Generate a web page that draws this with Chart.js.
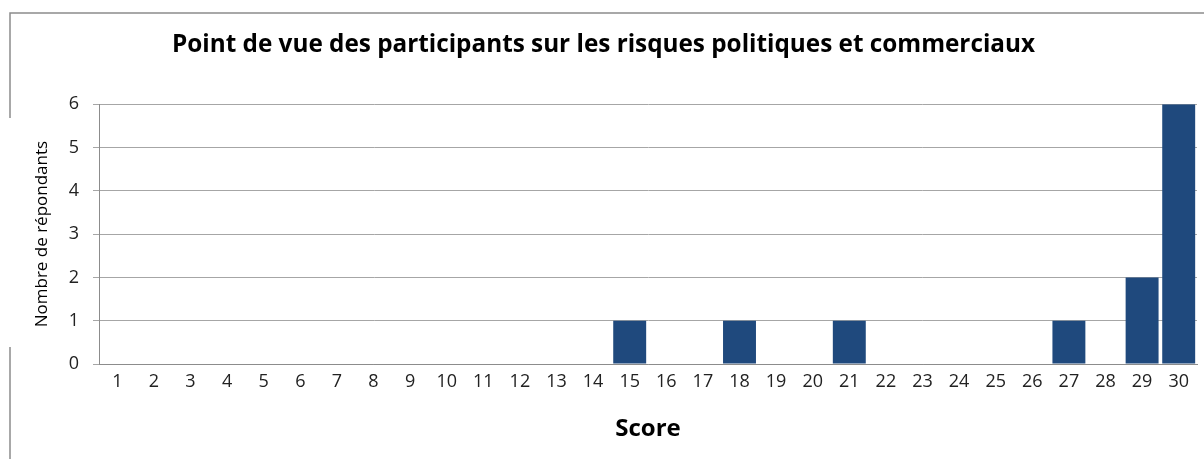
<!DOCTYPE html>
<html>
<head>
<meta charset="utf-8">
<script src="https://cdn.jsdelivr.net/npm/chart.js@4"></script>
<style>
  body { margin: 0; background: #fff; }
  #wrap { width: 1204px; height: 459px; }
</style>
</head>
<body>
<div id="wrap"><canvas id="chart1"></canvas></div>
<script>
const scores = ['1', '2', '3', '4', '5', '6', '7', '8', '9', '10', '11', '12', '13', '14', '15',
    '16', '17', '18', '19', '20', '21', '22', '23', '24', '25', '26', '27', '28', '29', '30'];
const respondents = [0, 0, 0, 0, 0, 0, 0, 0, 0, 0, 0, 0, 0, 0, 1,
    0, 0, 1, 0, 0, 1, 0, 0, 0, 0, 0, 1, 0, 2, 6];
const yTicks = [0, 1, 2, 3, 4, 5, 6];

const ctx1 = document.getElementById('chart1').getContext('2d');

// cadre gris autour du graphique (coupé par la zone blanche du titre de l'axe Y)
const frame = {
    id: 'frame',
    afterDraw: function(chart) {
        const ctx = chart.ctx;
        ctx.save();
        ctx.strokeStyle = '#8c8c8c';
        ctx.lineWidth = 1.5;
        ctx.beginPath();
        ctx.moveTo(10, 459);
        ctx.lineTo(10, 347);
        ctx.moveTo(10, 118);
        ctx.lineTo(10, 13);
        ctx.lineTo(1204, 13);
        ctx.stroke();
        ctx.restore();
    }
};

let chart = new Chart(ctx1, {
    type: 'bar',
    data: {
        labels: scores,
        datasets: [{
            data: respondents,
            backgroundColor: '#1F497D',
            borderWidth: 0,
            barPercentage: 0.9,
            categoryPercentage: 1.0
        }]
    },
    options: {
        responsive: true,
        maintainAspectRatio: false,
        animation: false,
        layout: {
            padding: { left: 10, right: 7, top: 0, bottom: 0 }
        },
        plugins: {
            legend: { display: false },
            tooltip: { enabled: false },
            title: {
                display: true,
                text: 'Point de vue des participants sur les risques politiques et commerciaux',
                color: '#000',
                font: { family: 'Open Sans', size: 24.3, weight: 'bold' },
                padding: { top: 30, bottom: 45 }
            }
        },
        scales: {
            x: {
                afterFit: function(axis) {
                    axis.height = 95;
                },
                grid: { display: false, drawTicks: false },
                border: { display: true, color: '#8c8c8c', width: 1 },
                ticks: {
                    color: '#222',
                    font: { family: 'Open Sans', size: 18 },
                    padding: 7,
                    maxRotation: 0,
                    autoSkip: false
                },
                title: {
                    display: true,
                    text: 'Score',
                    color: '#000',
                    font: { family: 'Open Sans', size: 24, weight: 'bold' },
                    padding: { top: 23, bottom: 15 }
                }
            },
            y: {
                min: 0,
                max: 6,
                afterBuildTicks: function(axis) {
                    axis.ticks = yTicks.map(v => ({ value: v }));
                },
                afterFit: function(axis) {
                    axis.width = 89;
                },
                grid: { color: '#a6a6a6', tickLength: 6 },
                border: { display: true, color: '#8c8c8c', width: 1 },
                ticks: {
                    color: '#222',
                    font: { family: 'Open Sans', size: 18 },
                    padding: 14
                },
                title: {
                    display: true,
                    text: 'Nombre de répondants',
                    color: '#000',
                    font: { family: 'Open Sans', size: 17 },
                    padding: { top: 22, bottom: 0 }
                }
            }
        }
    },
    plugins: [frame]
});
</script>
</body>
</html>
